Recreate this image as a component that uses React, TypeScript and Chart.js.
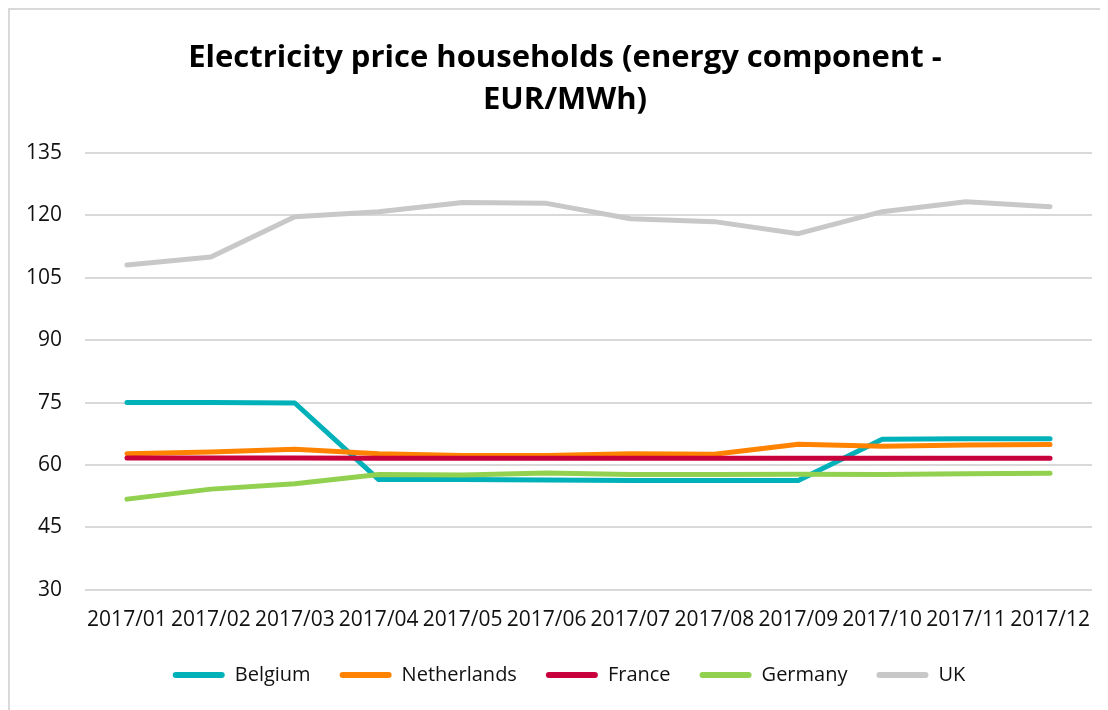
import React, { useEffect, useRef } from "react";
import { Chart, registerables } from "chart.js";

Chart.register(...registerables);

const months = ["2017/01", "2017/02", "2017/03", "2017/04", "2017/05", "2017/06", "2017/07", "2017/08", "2017/09", "2017/10", "2017/11", "2017/12"];
const belgium = [75.0, 75.0, 74.9, 56.5, 56.5, 56.4, 56.3, 56.3, 56.3, 66.2, 66.3, 66.3];
const netherlands = [62.7, 63.1, 63.8, 62.7, 62.3, 62.3, 62.7, 62.6, 65.0, 64.5, 64.8, 64.9];
const france = [61.7, 61.7, 61.7, 61.6, 61.6, 61.6, 61.6, 61.6, 61.6, 61.6, 61.6, 61.6];
const germany = [51.8, 54.2, 55.5, 57.7, 57.6, 58.1, 57.7, 57.7, 57.8, 57.7, 57.9, 58.0];
const uk = [108.1, 110.0, 119.7, 120.9, 123.1, 122.9, 119.2, 118.5, 115.6, 120.9, 123.3, 122.1];

const seriesNames = ["Belgium", "Netherlands", "France", "Germany", "UK"];
const seriesColors = ["#00B1BA", "#FF8300", "#C8003C", "#92D050", "#C8C8C8"];
const seriesValues = [belgium, netherlands, france, germany, uk];

const yMin = 30;
const yMax = 135;
const yStep = 15;
const titleLines = ["Electricity price households (energy component -", "EUR/MWh)"];

const FONT = "'Open Sans'";

const nudgePlugin = {
  id: "nudge",
  afterLayout(chart: any) {
    if (chart.titleBlock) chart.titleBlock.left += 15;
    if (chart.legend) chart.legend.left += 23;
  },
};

export default function App() {
  const ref = useRef<HTMLCanvasElement | null>(null);
  useEffect(() => {
    if (!ref.current) return;
    const chart = new Chart(ref.current, {
      type: "line",
      plugins: [nudgePlugin],
      data: {
        labels: months,
        datasets: seriesNames.map((name, i) => ({
          label: name,
          data: seriesValues[i],
          borderColor: seriesColors[i],
          backgroundColor: seriesColors[i],
          borderWidth: 5,
          borderCapStyle: "round" as const,
          borderJoinStyle: "round" as const,
          pointRadius: 0,
          tension: 0,
          fill: false,
          order: seriesNames.length - i,
        })),
      },
      options: {
        animation: false,
        responsive: true,
        maintainAspectRatio: false,
        layout: { padding: { left: 13, right: 16, top: 27, bottom: 15 } },
        plugins: {
          title: {
            display: true,
            text: titleLines,
            color: "#000",
            font: { family: FONT, size: 31, weight: "bold", lineHeight: 42 / 31 },
            padding: { top: 0, bottom: 32 },
          },
          legend: {
            position: "bottom",
            labels: {
              color: "#111",
              font: { family: FONT, size: 20 },
              boxWidth: 52,
              boxHeight: 6,
              padding: 29,
              useBorderRadius: true,
              borderRadius: 3,
              generateLabels: (c: any) =>
                c.data.datasets.map((d: any, i: number) => ({
                  text: d.label,
                  fillStyle: d.borderColor,
                  strokeStyle: d.borderColor,
                  lineWidth: 0,
                  hidden: false,
                  datasetIndex: i,
                  fontColor: "#111",
                  borderRadius: 3,
                })),
            },
          },
          tooltip: { enabled: false },
        },
        scales: {
          x: {
            offset: true,
            grid: { display: true, drawOnChartArea: false, drawTicks: true, tickLength: 15, tickColor: "rgba(0,0,0,0)", color: "rgba(0,0,0,0)" },
            border: { display: false },
            ticks: {
              color: "#111",
              font: { family: FONT, size: 21 },
              maxRotation: 0,
              minRotation: 0,
              autoSkip: false,
              padding: 3,
            },
          },
          y: {
            min: yMin,
            max: yMax,
            grid: { color: "#D9D9D9", lineWidth: 2, drawTicks: true, tickLength: 20, tickColor: "rgba(0,0,0,0)" },
            border: { display: false },
            ticks: {
              stepSize: yStep,
              color: "#111",
              font: { family: FONT, size: 21 },
              padding: 3,
            },
          },
        },
      },
    });
    return () => chart.destroy();
  }, []);
  return (
    <div
      style={{
        width: 1098,
        height: 700,
        borderLeft: "2px solid #D9D9D9",
        borderTop: "2px solid #D9D9D9",
        background: "#fff",
        position: "relative",
      }}
    >
      <canvas ref={ref} />
    </div>
  );
}
